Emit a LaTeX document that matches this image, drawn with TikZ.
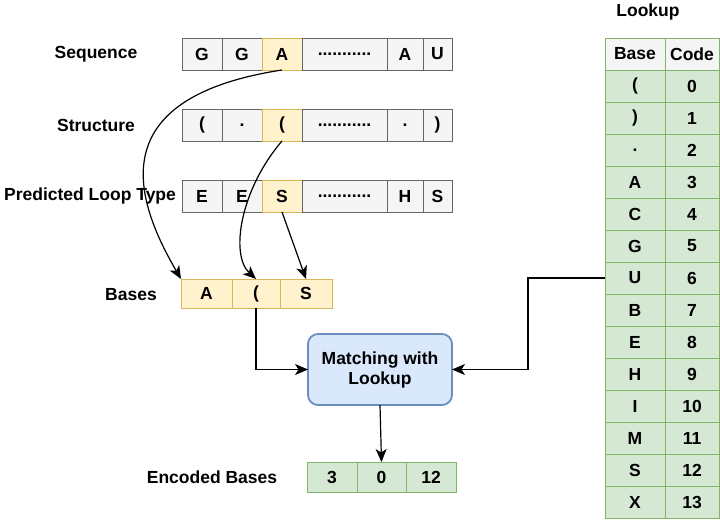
\documentclass[tikz,border=0pt]{standalone}
\usepackage{fontspec}
\setmainfont{Liberation Sans}
\usetikzlibrary{arrows.meta,positioning}

\definecolor{greyfill}{HTML}{F5F5F5}
\definecolor{greyline}{HTML}{666666}
\definecolor{yelfill}{HTML}{FFF2CC}
\definecolor{yelline}{HTML}{D6B656}
\definecolor{bluefill}{HTML}{DAE8FC}
\definecolor{blueline}{HTML}{6C8EBF}
\definecolor{grnfill}{HTML}{D5E8D4}
\definecolor{grnline}{HTML}{82B366}

\begin{document}
\begin{tikzpicture}[
  x=1pt, y=-1pt,
  >=Stealth,
  every node/.style={font=\fontsize{17.5}{20}\selectfont\bfseries, outer sep=0pt},
  cell/.style={draw=greyline, fill=greyfill, line width=0.9pt,
              minimum height=32pt, inner sep=0pt},
  pick/.style={cell, draw=yelline, fill=yelfill},
  enc/.style={cell, draw=grnline, fill=grnfill, minimum height=30pt},
  tab/.style={cell, draw=grnline, fill=grnfill, minimum height=32pt},
  hdr/.style={cell, draw=grnline, fill=greyfill, minimum height=32pt},
  match/.style={draw=blueline, fill=bluefill, line width=1.8pt,
              rounded corners=10pt, minimum width=144pt, minimum height=71pt,
              align=center},
  lbl/.style={},
  arr/.style={-{Stealth[length=13pt,width=11pt,inset=3.5pt]}, line width=1.2pt},
]
\useasboundingbox (0,0) rectangle (720,520);

% input rows
\node[lbl] (seqlbl) at (96,54) {Sequence};
\node[cell, minimum width=40pt] (seq1) at (202,54) {G};
\node[cell, minimum width=40pt] (seq2) at (242,54) {G};
\node[pick, minimum width=40pt] (seq3) at (282,54) {A};
\node[cell, minimum width=85pt] (seq4) at (344.5,54) {...........};
\node[cell, minimum width=36pt] (seq5) at (405,54) {A};
\node[cell, minimum width=29pt] (seq6) at (437.5,54) {U};

\node[lbl] (strlbl) at (96,125) {Structure};
\node[cell, minimum width=40pt] (str1) at (202,125) {(};
\node[cell, minimum width=40pt] (str2) at (242,125) {.};
\node[pick, minimum width=40pt] (str3) at (282,125) {(};
\node[cell, minimum width=85pt] (str4) at (344.5,125) {...........};
\node[cell, minimum width=36pt] (str5) at (405,125) {.};
\node[cell, minimum width=29pt] (str6) at (437.5,125) {)};

\node[lbl] (looplbl) at (90,196) {Predicted Loop Type};
\node[cell, minimum width=40pt] (loop1) at (202,196) {E};
\node[cell, minimum width=40pt] (loop2) at (242,196) {E};
\node[pick, minimum width=40pt] (loop3) at (282,196) {S};
\node[cell, minimum width=85pt] (loop4) at (344.5,196) {...........};
\node[cell, minimum width=36pt] (loop5) at (405,196) {H};
\node[cell, minimum width=29pt] (loop6) at (437.5,196) {S};

% selected bases
\node[lbl] (baselbl) at (131,295) {Bases};
\node[pick, minimum width=51pt, minimum height=29pt] (base1) at (206.5,293.5) {A};
\node[pick, minimum width=48pt, minimum height=29pt] (base2) at (256,293.5) {(};
\node[pick, minimum width=52pt, minimum height=29pt] (base3) at (306,293.5) {S};

\node[match] (match) at (380,369.5) {Matching with\\Lookup};

% encoded output
\node[lbl] (enclbl) at (212,477) {Encoded Bases};
\node[enc, minimum width=50pt] (enc1) at (332,477) {3};
\node[enc, minimum width=49pt] (enc2) at (381.5,477) {0};
\node[enc, minimum width=50pt] (enc3) at (431,477) {12};

% lookup table
\node[lbl] (lktitle) at (648,12) {Lookup};
\node[hdr, minimum width=60pt] (lkB) at (635,54) {Base};
\node[hdr, minimum width=54pt] (lkC) at (692,54) {Code};
\foreach \b/\c [count=\i] in {{(}/0, {)}/1, {.}/2, A/3, C/4, G/5, U/6,
    B/7, E/8, H/9, I/10, M/11, S/12, X/13} {
  \node[tab, minimum width=60pt] (lkb\i) at (635,{54+32*\i}) {\b};
  \node[tab, minimum width=54pt] (lkc\i) at (692,{54+32*\i}) {\c};
}

\coordinate (bend) at (528,278);

\draw[arr] (seq3.south) .. controls (100,98) and (135,200) .. (base1.north west);
\draw[arr] (str3.south) .. controls (240,190) and (230,255) .. (base2.north);
\draw[arr] (loop3.south) -- (base3.north);
\draw[arr] (base2.south) |- (match.west);
\draw[arr] (lkb7.west) -- (bend) |- (match.east);
\draw[arr] (match.south) -- (enc2.north);

\end{tikzpicture}
\end{document}
